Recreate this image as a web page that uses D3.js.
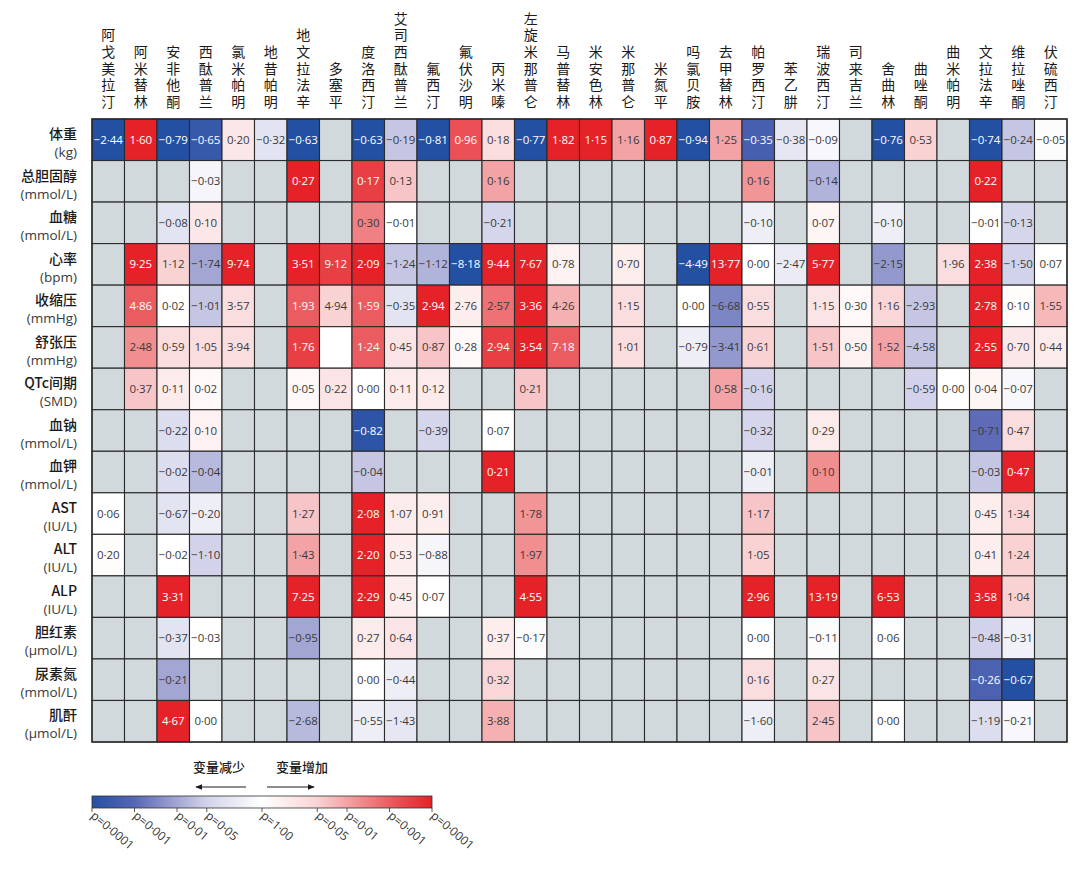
<!DOCTYPE html>
<html>
  <head>
    <meta charset="utf-8">
    <title>抗抑郁药 代谢变化 热图</title>
    <style>
      body {
        margin: 0;
        padding: 0;
        background: #fff;
      }
      svg {
        display: block;
      }
    </style>
    <script src="https://cdn.jsdelivr.net/npm/d3@7/dist/d3.min.js"></script>
  </head>
  <body>
    <svg></svg>
    <script>
      const W = 1080, H = 878;
      const _ = null;

      // 药物（列）
      const drugs = ["阿戈美拉汀","阿米替林","安非他酮","西酞普兰","氯米帕明","地昔帕明","地文拉法辛","多塞平","度洛西汀","艾司西酞普兰","氟西汀","氟伏沙明","丙米嗪","左旋米那普仑","马普替林","米安色林","米那普仑","米氮平","吗氯贝胺","去甲替林","帕罗西汀","苯乙肼","瑞波西汀","司来吉兰","舍曲林","曲唑酮","曲米帕明","文拉法辛","维拉唑酮","伏硫西汀"];

      // 指标（行）
      const outcomes = ["体重","总胆固醇","血糖","心率","收缩压","舒张压","QTc间期","血钠","血钾","AST","ALT","ALP","胆红素","尿素氮","肌酐"];
      const units = ["(kg)","(mmol/L)","(mmol/L)","(bpm)","(mmHg)","(mmHg)","(SMD)","(mmol/L)","(mmol/L)","(IU/L)","(IU/L)","(IU/L)","(µmol/L)","(mmol/L)","(µmol/L)"];

      // 效应值（null = 无数据，"" = 有颜色无数值）
      const values = [
        [-2.44,1.60,-0.79,-0.65,0.20,-0.32,-0.63,_,-0.63,-0.19,-0.81,0.96,0.18,-0.77,1.82,1.15,1.16,0.87,-0.94,1.25,-0.35,-0.38,-0.09,_,-0.76,0.53,_,-0.74,-0.24,-0.05],
        [_,_,_,-0.03,_,_,0.27,_,0.17,0.13,_,_,0.16,_,_,_,_,_,_,_,0.16,_,-0.14,_,_,_,_,0.22,_,_],
        [_,_,-0.08,0.10,_,_,_,_,0.30,-0.01,_,_,-0.21,_,_,_,_,_,_,_,-0.10,_,0.07,_,-0.10,_,_,-0.01,-0.13,_],
        [_,9.25,1.12,-1.74,9.74,_,3.51,9.12,2.09,-1.24,-1.12,-8.18,9.44,7.67,0.78,_,0.70,_,-4.49,13.77,0.00,-2.47,5.77,_,-2.15,_,1.96,2.38,-1.50,0.07],
        [_,4.86,0.02,-1.01,3.57,_,1.93,4.94,1.59,-0.35,2.94,2.76,2.57,3.36,4.26,_,1.15,_,0.00,-6.68,0.55,_,1.15,0.30,1.16,-2.93,_,2.78,0.10,1.55],
        [_,2.48,0.59,1.05,3.94,_,1.76,"",1.24,0.45,0.87,0.28,2.94,3.54,7.18,_,1.01,_,-0.79,-3.41,0.61,_,1.51,0.50,1.52,-4.58,_,2.55,0.70,0.44],
        [_,0.37,0.11,0.02,_,_,0.05,0.22,0.00,0.11,0.12,_,_,0.21,_,_,_,_,_,0.58,-0.16,_,_,_,_,-0.59,0.00,0.04,-0.07,_],
        [_,_,-0.22,0.10,_,_,_,_,-0.82,_,-0.39,_,0.07,_,_,_,_,_,_,_,-0.32,_,0.29,_,_,_,_,-0.71,0.47,_],
        [_,_,-0.02,-0.04,_,_,_,_,-0.04,_,_,_,0.21,_,_,_,_,_,_,_,-0.01,_,0.10,_,_,_,_,-0.03,0.47,_],
        [0.06,_,-0.67,-0.20,_,_,1.27,_,2.08,1.07,0.91,_,_,1.78,_,_,_,_,_,_,1.17,_,_,_,_,_,_,0.45,1.34,_],
        [0.20,_,-0.02,-1.10,_,_,1.43,_,2.20,0.53,-0.88,_,_,1.97,_,_,_,_,_,_,1.05,_,_,_,_,_,_,0.41,1.24,_],
        [_,_,3.31,_,_,_,7.25,_,2.29,0.45,0.07,_,_,4.55,_,_,_,_,_,_,2.96,_,13.19,_,6.53,_,_,3.58,1.04,_],
        [_,_,-0.37,-0.03,_,_,-0.95,_,0.27,0.64,_,_,0.37,-0.17,_,_,_,_,_,_,0.00,_,-0.11,_,0.06,_,_,-0.48,-0.31,_],
        [_,_,-0.21,_,_,_,_,_,0.00,-0.44,_,_,0.32,_,_,_,_,_,_,_,0.16,_,0.27,_,_,_,_,-0.26,-0.67,_],
        [_,_,4.67,0.00,_,_,-2.68,_,-0.55,-1.43,_,_,3.88,_,_,_,_,_,_,_,-1.60,_,2.45,_,0.00,_,_,-1.19,-0.21,_]
      ];

      // 显著性（带符号的 -log10 p，按颜色估读）
      const signif = [
        [-4,4,-4,-3.6,0.7,-0.8,-4,_,-4,-1.5,-4,3.2,1,-4,4,4,2,4,-4,2,-3.3,-0.7,-0.2,_,-4,1.3,_,-4,-1.5,-0.1],
        [_,_,_,-0.3,_,_,4,_,3.5,1.5,_,_,2,_,_,_,_,_,_,_,2.2,_,-1.8,_,_,_,_,4,_,_],
        [_,_,-0.8,0.7,_,_,_,_,2.5,0,_,_,-1.2,_,_,_,_,_,_,_,-0.5,_,0.3,_,-0.5,_,_,0,-1.2,_],
        [_,4,1.3,-2,4,_,4,3.5,4,-1.5,-1.8,-4,4,4,0.4,_,0.5,_,-4,4,0,-0.6,4,_,-2.2,_,1,4,-1.3,0],
        [_,3,0,-1.5,1,_,3,1.3,3,-0.8,4,0.5,2.7,4,1.8,_,1,_,0,-2.5,1,_,0.8,0.2,1.2,-1.5,_,4,0.1,1.7],
        [_,2.3,1,1,1,_,3.5,0,3,0.8,1.5,0.2,3.5,4,3,_,1,_,-0.5,-2.2,1.3,_,1.5,0.4,2,-1.5,_,4,0.7,0.6],
        [_,1.5,0.6,0.2,_,_,0.2,0.8,0,0.6,0.6,_,_,1.5,_,_,_,_,_,2,-1.3,_,_,_,_,-1.3,0,0.3,-0.2,_],
        [_,_,-1,0.4,_,_,_,_,-3.8,_,-1.2,_,0,_,_,_,_,_,_,_,-1.2,_,0.6,_,_,_,_,-2.9,1,_],
        [_,_,-1,-1.7,_,_,_,_,-1.5,_,_,_,4,_,_,_,_,_,_,_,-0.5,_,2.3,_,_,_,_,-1.5,4,_],
        [0,_,-0.8,-0.5,_,_,1.5,_,4,0.6,0.5,_,_,2.2,_,_,_,_,_,_,1.5,_,_,_,_,_,_,0.5,1.2,_],
        [0.1,_,0,-1.3,_,_,2,_,4,0.5,-0.3,_,_,2.3,_,_,_,_,_,_,1.3,_,_,_,_,_,_,0.5,1.3,_],
        [_,_,4,_,_,_,4,_,4,0.5,0,_,_,4,_,_,_,_,_,_,4,_,4,_,4,_,_,4,1.3,_],
        [_,_,-0.8,0,_,_,-2,_,0.6,0.8,_,_,0.5,-0.1,_,_,_,_,_,_,0,_,-0.1,_,0,_,_,-1.3,-0.4,_],
        [_,_,-2,_,_,_,_,_,0,-0.5,_,_,1.2,_,_,_,_,_,_,_,1,_,0.8,_,_,_,_,-3.2,-4,_],
        [_,_,4,0,_,_,-1.7,_,-0.5,-0.7,_,_,1.8,_,_,_,_,_,_,_,-0.5,_,1.5,_,0,_,_,-1,-0.2,_]
      ];

      // 图例刻度
      const legendTicks = [-4,-3,-2,-1.3,0,1.3,2,3,4];
      const legendLabels = ["p=0·0001","p=0·001","p=0·01","p=0·05","p=1·00","p=0·05","p=0·01","p=0·001","p=0·0001"];

      const svg = d3.select('svg').attr('width', W).attr('height', H);
      svg.append('rect').attr('width', W).attr('height', H).attr('fill', '#fff');

      const grid = {left: 92, right: 1067, top: 119, bottom: 742};

      const x = d3.scaleBand().domain(d3.range(drugs.length)).range([grid.left, grid.right]);
      const y = d3.scaleBand().domain(d3.range(outcomes.length)).range([grid.top, grid.bottom]);

      const color = d3.scaleLinear()
        .domain([-4, -3, -2, -1.3, 0, 1.3, 2, 3, 4])
        .range(['#2350a3', '#5666b4', '#a3a6d3', '#d2d3ea', '#ffffff', '#f9d3d4', '#f3a3a5', '#eb5c60', '#e52228'])
        .clamp(true);

      const fmt = v => d3.format('.2f')(v).replace('.', '·').replace('-', '–');

      const cells = [];
      values.forEach((row, r) => row.forEach((v, c) => {
        cells.push({r, c, v, s: signif[r][c]});
      }));

      // 单元格
      svg.append('g').selectAll('rect')
        .data(cells)
        .join('rect')
        .attr('x', d => x(d.c))
        .attr('y', d => y(d.r))
        .attr('width', x.bandwidth())
        .attr('height', y.bandwidth())
        .attr('fill', d => d.s === null ? '#d2d9dc' : color(d.s))
        .attr('stroke', '#2b2b2b')
        .attr('stroke-width', 1.1);

      // 数值
      svg.append('g').selectAll('text')
        .data(cells.filter(d => typeof d.v === 'number'))
        .join('text')
        .attr('x', d => x(d.c) + x.bandwidth() / 2)
        .attr('y', d => y(d.r) + y.bandwidth() / 2 + 4)
        .attr('text-anchor', 'middle')
        .attr('font-family', '"Open Sans", "Noto Sans", sans-serif')
        .attr('font-size', 11.5)
        .attr('fill', d => Math.abs(d.s) >= 3 ? '#fff' : '#3a3a3a')
        .text(d => fmt(d.v));

      // 外框
      svg.append('rect')
        .attr('x', grid.left).attr('y', grid.top)
        .attr('width', grid.right - grid.left).attr('height', grid.bottom - grid.top)
        .attr('fill', 'none').attr('stroke', '#2b2b2b').attr('stroke-width', 1.4);

      // 列标题（竖排，底部对齐）
      svg.append('g').selectAll('text')
        .data(drugs)
        .join('text')
        .attr('x', (d, i) => x(i) + x.bandwidth() / 2)
        .attr('y', 111)
        .attr('writing-mode', 'vertical-rl')
        .attr('text-anchor', 'end')
        .attr('letter-spacing', 2.6)
        .attr('font-family', '"Noto Sans CJK SC", sans-serif')
        .attr('font-size', 14)
        .attr('fill', '#1a1a1a')
        .text(d => d);

      // 行标签
      const rowLab = svg.append('g');
      outcomes.forEach((name, i) => {
        rowLab.append('text')
          .attr('x', 77).attr('y', y(i) + 20)
          .attr('text-anchor', 'end')
          .attr('font-family', '"Noto Sans CJK SC", sans-serif')
          .attr('font-size', 14)
          .attr('font-weight', 500)
          .attr('fill', '#1a1a1a')
          .text(name);
        rowLab.append('text')
          .attr('x', 77).attr('y', y(i) + 38)
          .attr('text-anchor', 'end')
          .attr('font-family', '"Open Sans", "Noto Sans", sans-serif')
          .attr('font-size', 13.5)
          .attr('fill', '#3a3a3a')
          .text(units[i]);
      });

      // 图例
      const lx = d3.scaleLinear().domain([-4, 4]).range([92, 432]);
      const defs = svg.append('defs');
      const grad = defs.append('linearGradient').attr('id', 'lg');
      d3.range(0, 1.0001, 0.02).forEach(t => {
        grad.append('stop')
          .attr('offset', t)
          .attr('stop-color', color(-4 + 8 * t));
      });
      svg.append('rect')
        .attr('x', lx(-4)).attr('y', 796)
        .attr('width', lx(4) - lx(-4)).attr('height', 12)
        .attr('fill', 'url(#lg)')
        .attr('stroke', '#333').attr('stroke-width', 0.8);

      svg.append('g').selectAll('line')
        .data(legendTicks)
        .join('line')
        .attr('x1', d => lx(d)).attr('x2', d => lx(d))
        .attr('y1', 808).attr('y2', 812)
        .attr('stroke', '#333').attr('stroke-width', 0.8);

      svg.append('g').selectAll('text')
        .data(legendTicks)
        .join('text')
        .attr('transform', d => `translate(${lx(d) - 2},${817}) rotate(40)`)
        .attr('font-family', '"Open Sans", "Noto Sans", sans-serif')
        .attr('font-size', 12)
        .attr('fill', '#333')
        .text((d, i) => legendLabels[i]);

      const legTitle = svg.append('g')
        .attr('font-family', '"Noto Sans CJK SC", sans-serif')
        .attr('font-size', 13)
        .attr('font-weight', 500)
        .attr('fill', '#1a1a1a');
      legTitle.append('text').attr('x', 219).attr('y', 772).attr('text-anchor', 'middle').text('变量减少');
      legTitle.append('text').attr('x', 302).attr('y', 772).attr('text-anchor', 'middle').text('变量增加');

      defs.append('marker')
        .attr('id', 'ah')
        .attr('viewBox', '0 0 10 10')
        .attr('refX', 9).attr('refY', 5)
        .attr('markerWidth', 7).attr('markerHeight', 7)
        .attr('orient', 'auto')
        .append('path')
        .attr('d', 'M0,1 L10,5 L0,9 Z')
        .attr('fill', '#1a1a1a');

      svg.append('line')
        .attr('x1', 246).attr('y1', 787).attr('x2', 196).attr('y2', 787)
        .attr('stroke', '#1a1a1a').attr('stroke-width', 1)
        .attr('marker-end', 'url(#ah)');
      svg.append('line')
        .attr('x1', 267).attr('y1', 787).attr('x2', 314).attr('y2', 787)
        .attr('stroke', '#1a1a1a').attr('stroke-width', 1)
        .attr('marker-end', 'url(#ah)');
    </script>
  </body>
</html>
